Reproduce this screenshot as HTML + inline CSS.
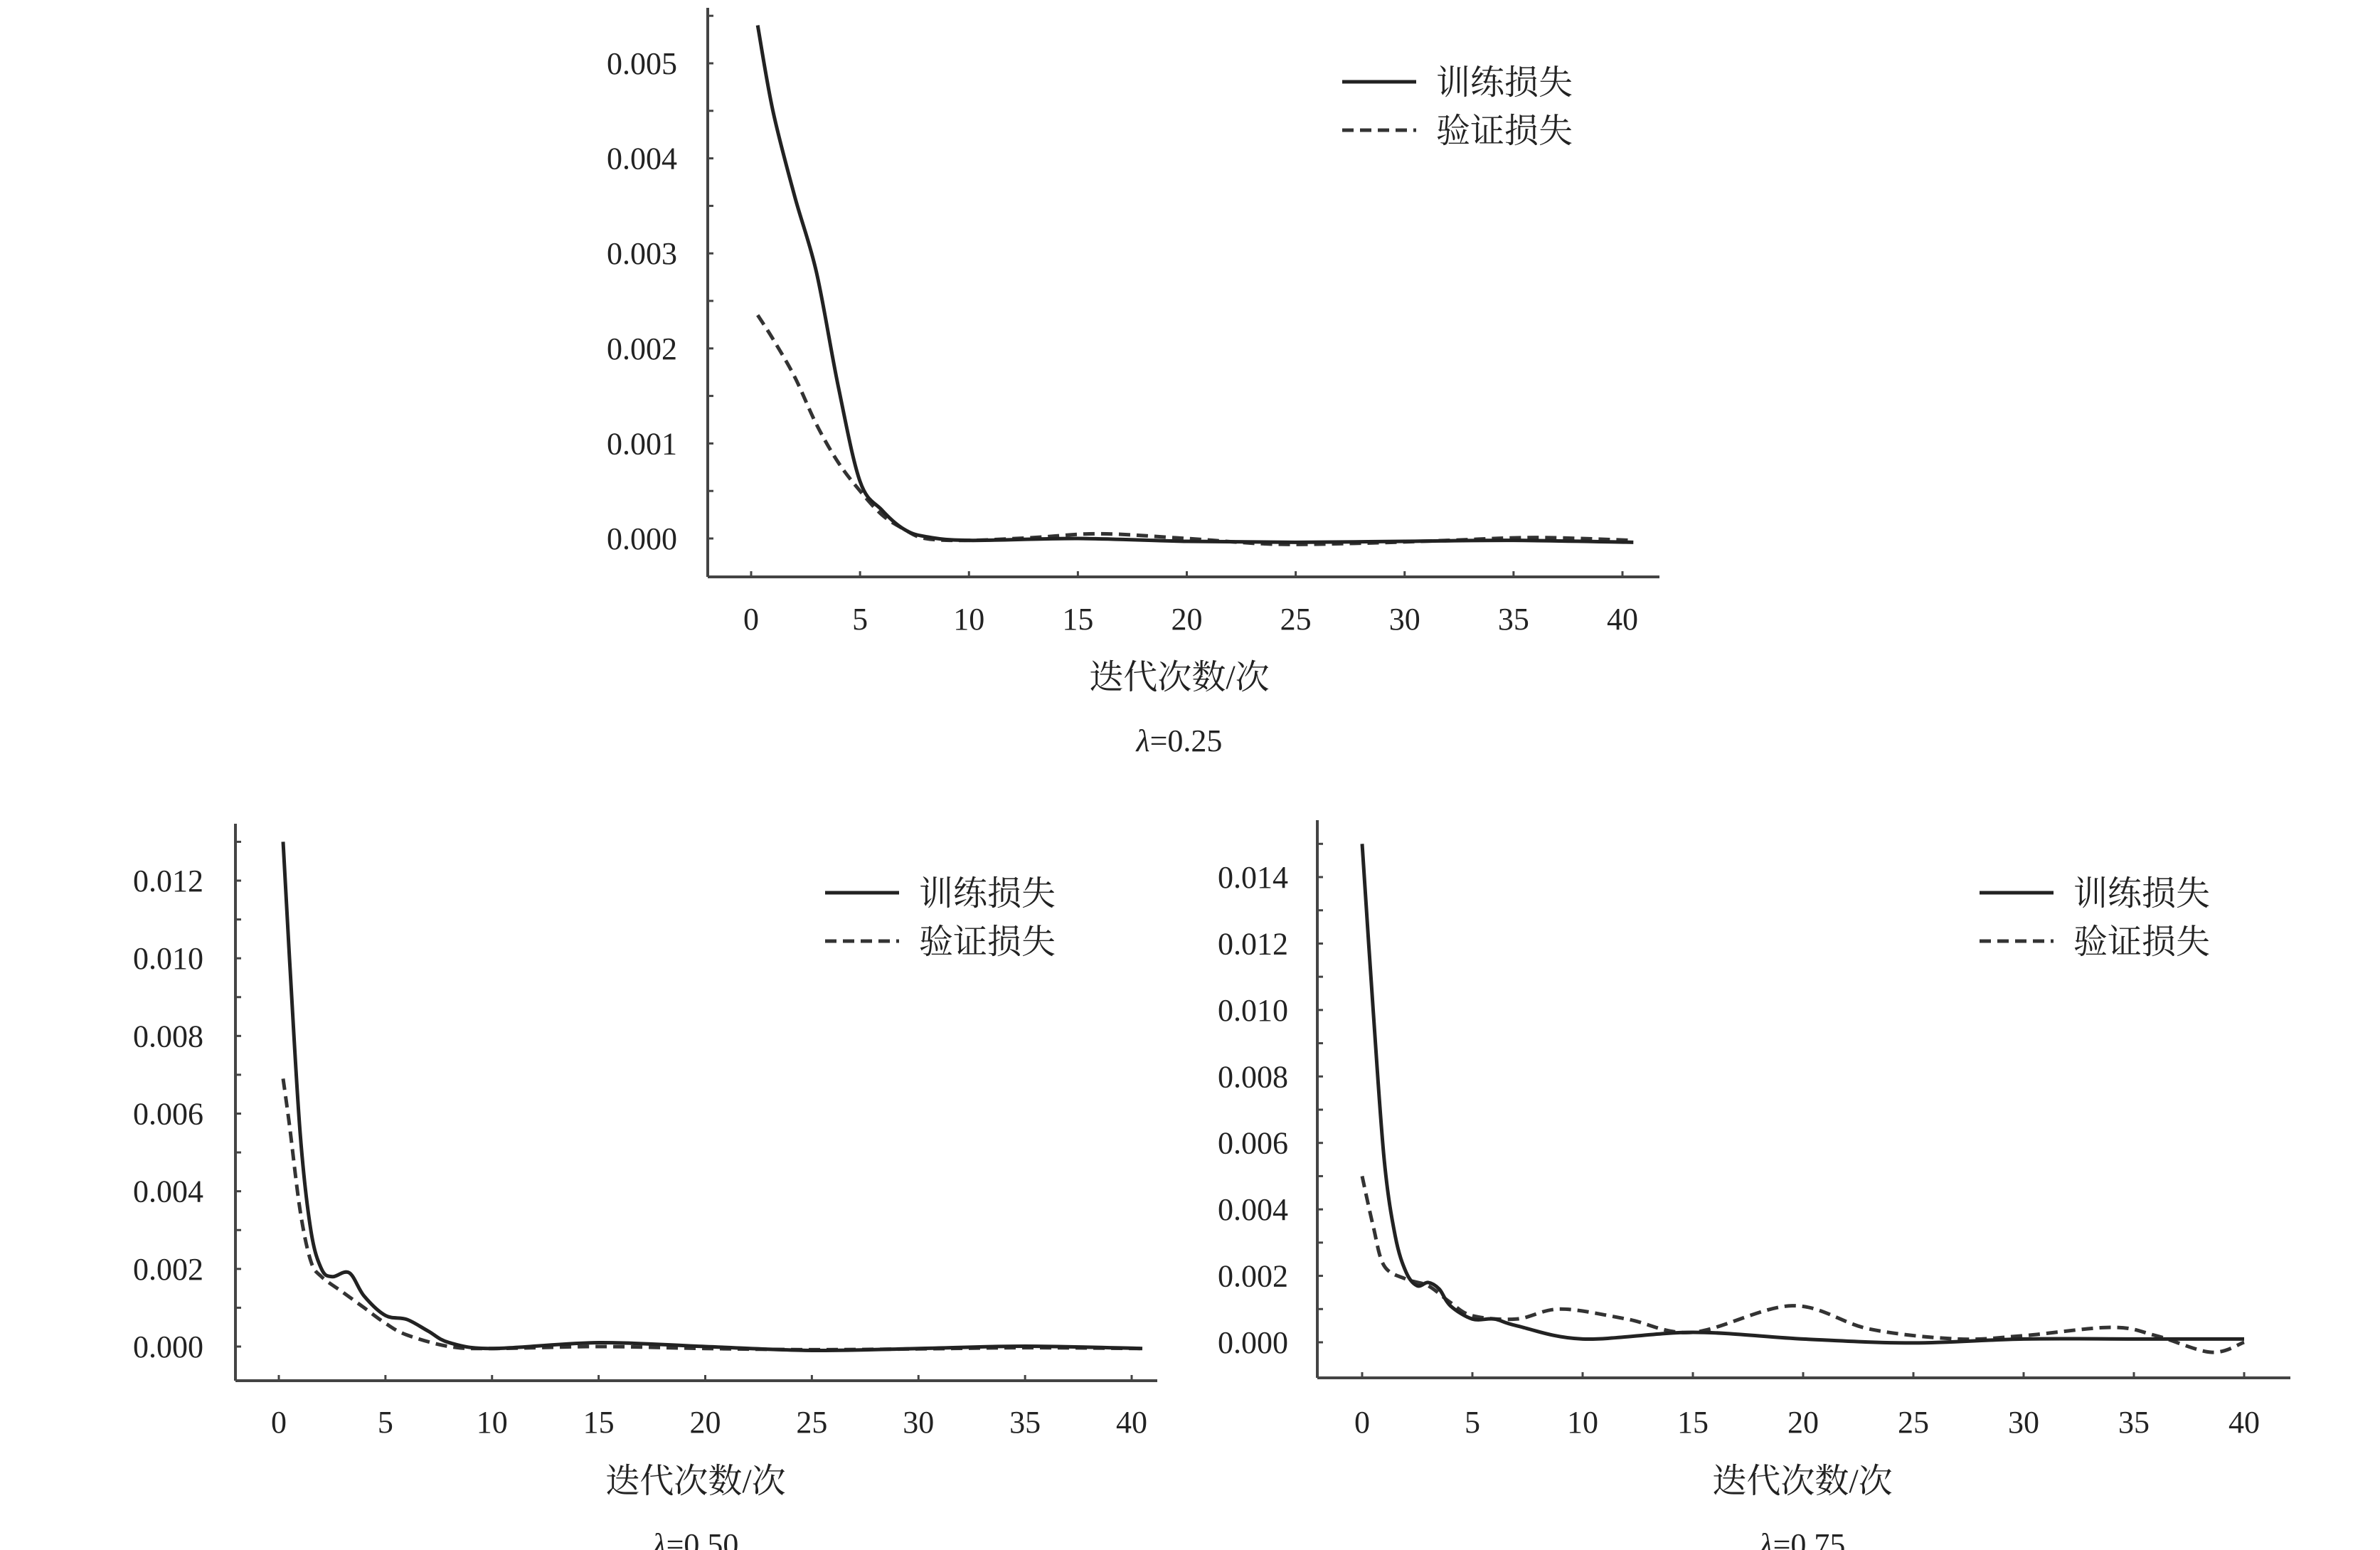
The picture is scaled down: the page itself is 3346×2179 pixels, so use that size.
<!DOCTYPE html>
<html><head><meta charset="utf-8"><style>
html,body{margin:0;padding:0;background:#fff}
svg{display:block}
text{font-family:"Liberation Serif","Noto Serif CJK SC",serif;fill:#222}
</style></head><body>
<svg id="fig" width="3346" height="2179" viewBox="0 0 3346 2179" xmlns="http://www.w3.org/2000/svg"></svg>
<script>
// ---- data: lambda = 0.25 ----
const xA_train=[0.3,1,2,3,4,5,6,7,8,10,15,20,25,30,35,40.5];
const yA_train=[0.0054,0.0045,0.0036,0.0028,0.0016,0.0006,0.0003,0.0001,0.00002,-0.00002,0,-0.00003,-0.00004,-0.00003,-0.00002,-0.00004];
const xA_val=[0.3,1,2,3,4,5,6,7,8,10,13,16,20,24,28,32,36,40.5];
const yA_val=[0.00235,0.0021,0.0017,0.0012,0.0008,0.0005,0.00025,0.0001,0,-0.00002,0.00001,0.00005,0,-0.00006,-0.00005,-0.00002,0.00001,-0.00002];
const yTicksA=["0.000","0.001","0.002","0.003","0.004","0.005"];
// ---- data: lambda = 0.50 ----
const xB_train=[0.2,0.5,1,1.5,2,2.5,3.3,4,5,6,7,8,10,15,20,25,30,35,40.5];
const yB_train=[0.013,0.010,0.0055,0.003,0.002,0.0018,0.0019,0.0013,0.0008,0.0007,0.0004,0.0001,-0.00005,0.0001,0,-0.0001,-0.00005,0.00001,-0.00005];
const xB_val=[0.2,0.5,1,1.5,2,3,4,5,6,8,10,15,20,25,30,35,40.5];
const yB_val=[0.0069,0.0057,0.0035,0.0022,0.0018,0.0014,0.0010,0.0006,0.0003,0,-0.00005,0,-0.00005,-0.00008,-0.00006,-0.00003,-0.00005];
const yTicksB=["0.000","0.002","0.004","0.006","0.008","0.010","0.012"];
// ---- data: lambda = 0.75 ----
const xC_train=[0,0.5,1,1.5,2,2.5,3,3.5,4,5,6,7,10,15,20,25,30,35,40];
const yC_train=[0.015,0.010,0.0055,0.0032,0.0021,0.0017,0.0018,0.0016,0.0011,0.0007,0.0007,0.0005,0.0001,0.0003,0.0001,-0.00002,0.0001,0.0001,0.0001];
const xC_val=[0,0.5,1,2,3,4,5,7,9,12,15,19.5,23,27,30,34,36,38.5,40];
const yC_val=[0.005,0.0035,0.0023,0.0019,0.0017,0.0012,0.0008,0.0007,0.001,0.0007,0.0003,0.0011,0.0004,0.0001,0.0002,0.00045,0.0002,-0.0003,0];
const yTicksC=["0.000","0.002","0.004","0.006","0.008","0.010","0.012","0.014"];
const xTicks=[0,5,10,15,20,25,30,35,40];

const NS="http://www.w3.org/2000/svg";
const svg=document.getElementById('fig');
function mk(tag,attrs,parent){const e=document.createElementNS(NS,tag);for(const k in attrs)e.setAttribute(k,attrs[k]);(parent||svg).appendChild(e);return e;}
function smooth(pts){let d=`M${pts[0][0]},${pts[0][1]}`;for(let i=0;i<pts.length-1;i++){const p0=pts[Math.max(0,i-1)],p1=pts[i],p2=pts[i+1],p3=pts[Math.min(pts.length-1,i+2)];
const c1=[p1[0]+(p2[0]-p0[0])/6,p1[1]+(p2[1]-p0[1])/6],c2=[p2[0]-(p3[0]-p1[0])/6,p2[1]-(p3[1]-p1[1])/6];d+=` C${c1[0]},${c1[1]} ${c2[0]},${c2[1]} ${p2[0]},${p2[1]}`;}return d;}

function chart(c){
  const g=mk('g',{});
  
  
  const sx=v=>c.x0+(v-0)*(c.x40-c.x0)/40;
  const sy=v=>c.y0+(v)*(c.yTop-c.y0)/c.yTopVal;
  // axes
  const ya=mk('line',{x1:c.ax,y1:c.axTop,x2:c.ax,y2:c.axB,stroke:'#444','stroke-width':4},g);
  
  const xa=mk('line',{x1:c.ax,y1:c.axB,x2:c.axR,y2:c.axB,stroke:'#444','stroke-width':4},g);
  
  // y ticks (major + minor)
  const step=parseFloat(c.yt[1]);
  c.yt.forEach((t,i)=>{const v=parseFloat(t);const y=sy(v);
    mk('line',{x1:c.ax,y1:y,x2:c.ax+8,y2:y,stroke:'#444','stroke-width':3},g);
    const yh=sy(v+step/2); if(yh>c.axTop+5) mk('line',{x1:c.ax,y1:yh,x2:c.ax+8,y2:yh,stroke:'#444','stroke-width':3},g);
    const tx=mk('text',{x:c.ylx,y:y+15,'text-anchor':'end','font-size':c.fs},g);tx.textContent=t;
    });
  xTicks.forEach(t=>{const x=sx(t);
    mk('line',{x1:x,y1:c.axB,x2:x,y2:c.axB-8,stroke:'#444','stroke-width':3},g);
    const tx=mk('text',{x:x,y:c.xly,'text-anchor':'middle','font-size':c.fs},g);tx.textContent=t;
    });
  // series
  const pv=c.xv.map((x,i)=>[sx(x),sy(c.yv[i])]);
  const pvE=mk('path',{d:smooth(pv),fill:'none',stroke:'#333','stroke-width':5,'stroke-dasharray':'16,9'},g);
  
  const pt=c.xt.map((x,i)=>[sx(x),sy(c.ytr[i])]);
  const ptE=mk('path',{d:smooth(pt),fill:'none',stroke:'#222','stroke-width':5},g);
  
  // legend
  const l1=mk('line',{x1:c.lgx,y1:c.lgy,x2:c.lgx+104,y2:c.lgy,stroke:'#222','stroke-width':5},g);
  
  const t1=mk('text',{x:c.lgx+132,y:c.lgy+17,'font-size':c.fs+4},g);t1.textContent='训练损失';
  
  const l2=mk('line',{x1:c.lgx,y1:c.lgy+68,x2:c.lgx+104,y2:c.lgy+68,stroke:'#333','stroke-width':5,'stroke-dasharray':'16,9'},g);
  
  const t2=mk('text',{x:c.lgx+132,y:c.lgy+85,'font-size':c.fs+4},g);t2.textContent='验证损失';
  
  // titles
  const xl=mk('text',{x:c.cx,y:c.xty,'text-anchor':'middle','font-size':c.fs+4},g);xl.textContent='迭代次数/次';
  
  const lm=mk('text',{x:c.cx,y:c.lty,'text-anchor':'middle','font-size':c.fs},g);
  lm.innerHTML='<tspan font-style="italic">λ</tspan>='+c.lam;
  
}
chart({name:'chart-lambda-025',ax:995,axTop:11,axB:811,axR:2333,x0:1056,x40:2281,y0:757,yTop:89,yTopVal:0.005,
  yt:yTicksA,ylx:952,xly:885,fs:44,lgx:1887,lgy:115,cx:1658,xty:968,lty:1056,lam:'0.25',
  xt:xA_train,ytr:yA_train,xv:xA_val,yv:yA_val});
chart({name:'chart-lambda-050',ax:331,axTop:1158,axB:1941,axR:1627,x0:392,x40:1591,y0:1893,yTop:1238,yTopVal:0.012,
  yt:yTicksB,ylx:286,xly:2014,fs:44,lgx:1160,lgy:1255,cx:978,xty:2098,lty:2186,lam:'0.50',
  xt:xB_train,ytr:yB_train,xv:xB_val,yv:yB_val});
chart({name:'chart-lambda-075',ax:1852,axTop:1153,axB:1937,axR:3220,x0:1915,x40:3155,y0:1887,yTop:1233,yTopVal:0.014,
  yt:yTicksC,ylx:1811,xly:2014,fs:44,lgx:2783,lgy:1255,cx:2534,xty:2098,lty:2186,lam:'0.75',
  xt:xC_train,ytr:yC_train,xv:xC_val,yv:yC_val});
</script>
</body></html>
